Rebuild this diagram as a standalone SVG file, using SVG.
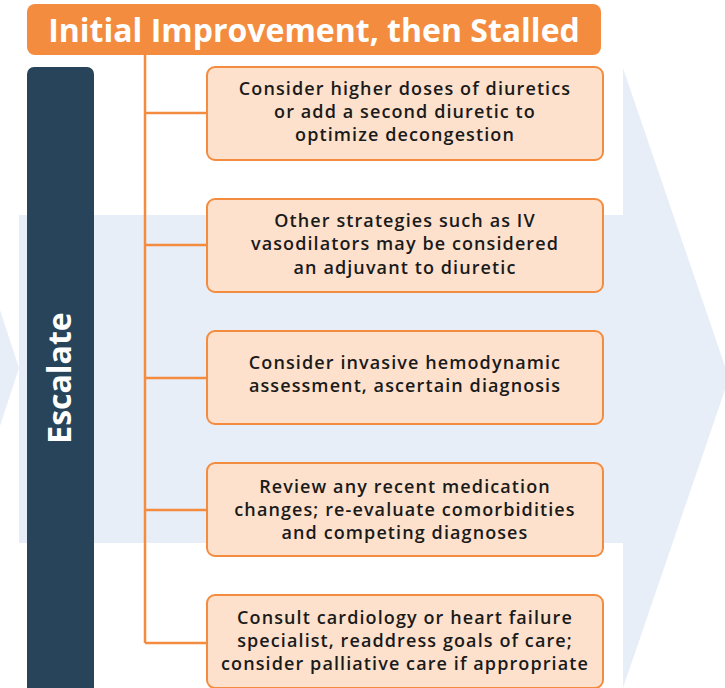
<svg xmlns="http://www.w3.org/2000/svg" width="725" height="688" viewBox="0 0 725 688">
<style>
.bg{fill:#e8eef8}
.box{fill:#fde1cc;stroke:#f48c40;stroke-width:2}
.conn{stroke:#f48c40;stroke-width:2.5;fill:none}
.t{font-family:"Open Sans","Liberation Sans",sans-serif;font-weight:600;font-size:18px;letter-spacing:1.1px;fill:#1a1a1a;text-anchor:middle}
.title{font-family:"Open Sans","Liberation Sans",sans-serif;font-weight:bold;font-size:32px;fill:#fff;text-anchor:middle}
.side{font-family:"Open Sans","Liberation Sans",sans-serif;font-weight:bold;font-size:32px;fill:#fff;text-anchor:middle}
</style>
<rect width="725" height="688" fill="#fff"/>
<polygon class="bg" points="0,310 19,368 0,426"/>
<polygon class="bg" points="19,215 623,215 623,68 729,378 623,688 623,543 19,543"/>
<g id="title">
<rect x="27" y="4" width="574" height="51" rx="8" fill="#f48c40"/>
<text class="title" x="314" y="42">Initial Improvement, then Stalled</text>
</g>
<g id="escalate">
<rect x="27" y="67" width="67" height="640" rx="7" fill="#27445a"/>
<text class="side" transform="translate(71,378) rotate(-90)">Escalate</text>
</g>
<g id="connectors">
<path class="conn" d="M145,55 V643 M145,113 H207 M145,245 H207 M145,378 H207 M145,510 H207 M145,643 H207"/>
</g>
<g id="n1">
<rect class="box" x="207" y="67" width="396" height="93" rx="8"/>
<text class="t"><tspan x="405" y="95">Consider higher doses of diuretics</tspan><tspan x="405" y="118">or add a second diuretic to</tspan><tspan x="405" y="141">optimize decongestion</tspan></text>
</g>
<g id="n2">
<rect class="box" x="207" y="199" width="396" height="93" rx="8"/>
<text class="t"><tspan x="405" y="227">Other strategies such as IV</tspan><tspan x="405" y="250">vasodilators may be considered</tspan><tspan x="405" y="274">an adjuvant to diuretic</tspan></text>
</g>
<g id="n3">
<rect class="box" x="207" y="331" width="396" height="93" rx="8"/>
<text class="t"><tspan x="405" y="369">Consider invasive hemodynamic</tspan><tspan x="405" y="392">assessment, ascertain diagnosis</tspan></text>
</g>
<g id="n4">
<rect class="box" x="207" y="463" width="396" height="93" rx="8"/>
<text class="t"><tspan x="405" y="493">Review any recent medication</tspan><tspan x="405" y="516">changes; re-evaluate comorbidities</tspan><tspan x="405" y="539">and competing diagnoses</tspan></text>
</g>
<g id="n5">
<rect class="box" x="207" y="595" width="396" height="93" rx="8"/>
<text class="t"><tspan x="405" y="624">Consult cardiology or heart failure</tspan><tspan x="405" y="647">specialist, readdress goals of care;</tspan><tspan x="405" y="670">consider palliative care if appropriate</tspan></text>
</g>
</svg>
